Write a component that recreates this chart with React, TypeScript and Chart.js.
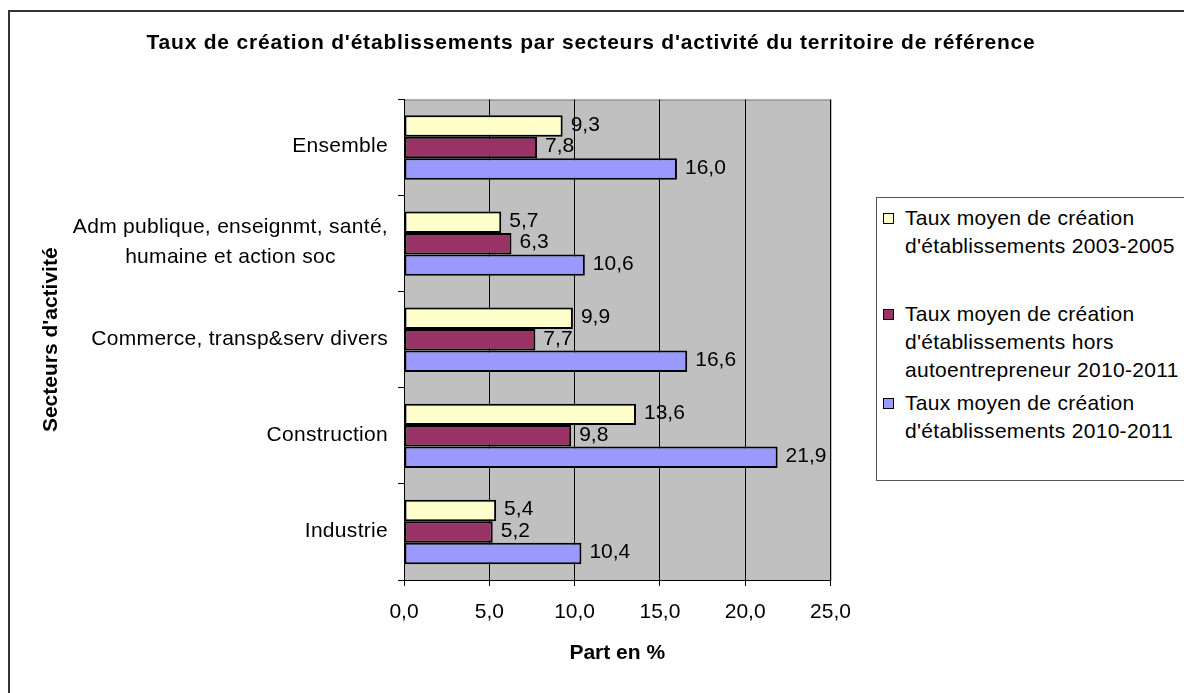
import { useEffect, useRef } from 'react';
import { Chart, registerables } from 'chart.js';

Chart.register(...registerables);

const chartTitle = "Taux de création d'établissements par secteurs d'activité du territoire de référence";
const yAxisTitle = "Secteurs d'activité";
const xAxisTitle = 'Part en %';
const categoryLines = [
  ['Ensemble'],
  ['Adm publique, enseignmt, santé,', 'humaine et action soc'],
  ['Commerce, transp&serv divers'],
  ['Construction'],
  ['Industrie'],
];
const series2003_2005 = [9.3, 5.7, 9.9, 13.6, 5.4];
const seriesHorsAE_2010_2011 = [7.8, 6.3, 7.7, 9.8, 5.2];
const series2010_2011 = [16.0, 10.6, 16.6, 21.9, 10.4];
const seriesNames = [
  ['Taux moyen de création', "d'établissements 2003-2005"],
  ['Taux moyen de création', "d'établissements hors", 'autoentrepreneur 2010-2011'],
  ['Taux moyen de création', "d'établissements 2010-2011"],
];
const seriesColors = ['#FFFFCC', '#993366', '#9999FF'];
const xMin = 0;
const xMax = 25;
const xStep = 5;

const FONT = "'Liberation Sans', Arial, sans-serif";
const fmt = (v: number) => v.toFixed(1).replace('.', ',');

const decorPlugin = {
  id: 'decor',
  beforeDraw(chart: any) {
    const { ctx, chartArea } = chart;
    ctx.save();
    ctx.fillStyle = '#C0C0C0';
    ctx.fillRect(chartArea.left, chartArea.top, chartArea.right - chartArea.left, chartArea.bottom - chartArea.top);
    ctx.strokeStyle = '#808080';
    ctx.lineWidth = 1;
    ctx.strokeRect(chartArea.left + 0.5, chartArea.top + 0.5, chartArea.right - chartArea.left, chartArea.bottom - chartArea.top);
    ctx.restore();
  },
  afterDraw(chart: any) {
    const { ctx } = chart;
    ctx.save();
    // chart title
    ctx.fillStyle = '#000';
    ctx.font = `bold 21px ${FONT}`;
    ctx.textAlign = 'center';
    ctx.textBaseline = 'middle';
    try { (ctx as any).letterSpacing = '0.8px'; } catch (e) { /* ignore */ }
    ctx.fillText(chartTitle, chart.width / 2 - 1, 43);
    try { (ctx as any).letterSpacing = '0px'; } catch (e) { /* ignore */ }

    // category labels: block right-aligned, lines centered inside block
    const yScale = chart.scales.y;
    ctx.font = `21px ${FONT}`;
    try { (ctx as any).letterSpacing = '0.3px'; } catch (e) { /* ignore */ }
    const rightEdge = chart.chartArea.left - 16;
    const lh = 30;
    categoryLines.forEach((lines, i) => {
      const cy = yScale.getPixelForTick(i) - 1;
      const widths = lines.map((l) => ctx.measureText(l).width);
      const bw = Math.max(...widths);
      const cx = rightEdge - bw / 2;
      lines.forEach((l, j) => {
        const y = cy + (j - (lines.length - 1) / 2) * lh;
        ctx.fillText(l, cx, y);
      });
    });
    ctx.restore();
  },
  afterDatasetsDraw(chart: any) {
    const { ctx } = chart;
    ctx.save();
    ctx.fillStyle = '#000';
    ctx.font = `21px ${FONT}`;
    ctx.textAlign = 'left';
    ctx.textBaseline = 'middle';
    chart.data.datasets.forEach((ds: any, di: number) => {
      const meta = chart.getDatasetMeta(di);
      meta.data.forEach((bar: any, i: number) => {
        ctx.fillText(fmt(ds.data[i]), bar.x + 8, bar.y - 1);
      });
    });
    ctx.restore();
  },
};

export default function App() {
  const ref = useRef<HTMLCanvasElement | null>(null);

  useEffect(() => {
    if (!ref.current) return;
    const chart = new Chart(ref.current, {
      type: 'bar',
      data: {
        labels: categoryLines.map((l) => l.join(' ')),
        datasets: [
          { label: seriesNames[0].join(' '), data: series2003_2005, backgroundColor: seriesColors[0] },
          { label: seriesNames[1].join(' '), data: seriesHorsAE_2010_2011, backgroundColor: seriesColors[1] },
          { label: seriesNames[2].join(' '), data: series2010_2011, backgroundColor: seriesColors[2] },
        ].map((d) => ({
          ...d,
          borderColor: '#000',
          borderWidth: 2,
          borderSkipped: false,
          categoryPercentage: 0.67,
          barPercentage: 1,
        })),
      },
      options: {
        indexAxis: 'y',
        animation: false,
        responsive: false,
        devicePixelRatio: 1,
        layout: { padding: { left: 20, right: 353.5, top: 99.5, bottom: 10 } },
        plugins: {
          legend: { display: false },
          title: { display: false },
          tooltip: { enabled: false },
        },
        scales: {
          x: {
            type: 'linear',
            min: xMin,
            max: xMax,
            ticks: {
              stepSize: xStep,
              color: '#000',
              font: { family: FONT, size: 21 },
              padding: 14,
              callback: (v: any) => fmt(Number(v)),
            },
            grid: { color: '#000', lineWidth: 1, tickLength: 6, drawTicks: true },
            border: { display: true, color: '#000', width: 1 },
            title: {
              display: true,
              text: xAxisTitle,
              color: '#000',
              font: { family: FONT, size: 21, weight: 'bold' },
              padding: { top: 0, bottom: 17 },
            },
            afterFit: (s: any) => { s.height = 103; },
          },
          y: {
            type: 'category',
            ticks: { display: false },
            grid: { display: true, drawOnChartArea: false, drawTicks: true, tickLength: 6, color: '#000', offset: true },
            border: { display: true, color: '#000', width: 1 },
            title: {
              display: true,
              text: yAxisTitle,
              color: '#000',
              font: { family: FONT, size: 21, weight: 'bold' },
              padding: { top: 19, bottom: 0 },
            },
            afterFit: (s: any) => { s.width = 384; },
          },
        },
      } as any,
      plugins: [decorPlugin],
    });
    return () => chart.destroy();
  }, []);

  const legendTops = [5.5, 102, 191];

  return (
    <div style={{ position: 'fixed', left: 0, top: 0, width: 1184, height: 693, overflow: 'hidden', background: '#fff' }}>
      <div style={{ position: 'absolute', left: 8, top: 10, width: 1240, height: 740, border: '2px solid #333', boxSizing: 'border-box' }} />
      <canvas ref={ref} width={1184} height={693} style={{ position: 'absolute', left: 0, top: 0, width: 1184, height: 693 }} />
      <div
        style={{
          position: 'absolute', left: 876, top: 197, width: 340, height: 284,
          border: '1px solid #555', boxSizing: 'border-box', background: '#fff',
          fontFamily: FONT, fontSize: 21, color: '#000', letterSpacing: '0.3px',
        }}
      >
        {seriesNames.map((lines, i) => (
          <div key={i} style={{ position: 'absolute', left: 0, top: legendTops[i], width: 330 }}>
            <div style={{ position: 'absolute', left: 6, top: 9, width: 11, height: 11, background: seriesColors[i], border: '1.5px solid #000', boxSizing: 'border-box' }} />
            <div style={{ position: 'absolute', left: 28, top: 0, whiteSpace: 'nowrap', lineHeight: '28px' }}>
              {lines.map((l, j) => (
                <div key={j}>{l}</div>
              ))}
            </div>
          </div>
        ))}
      </div>
    </div>
  );
}
